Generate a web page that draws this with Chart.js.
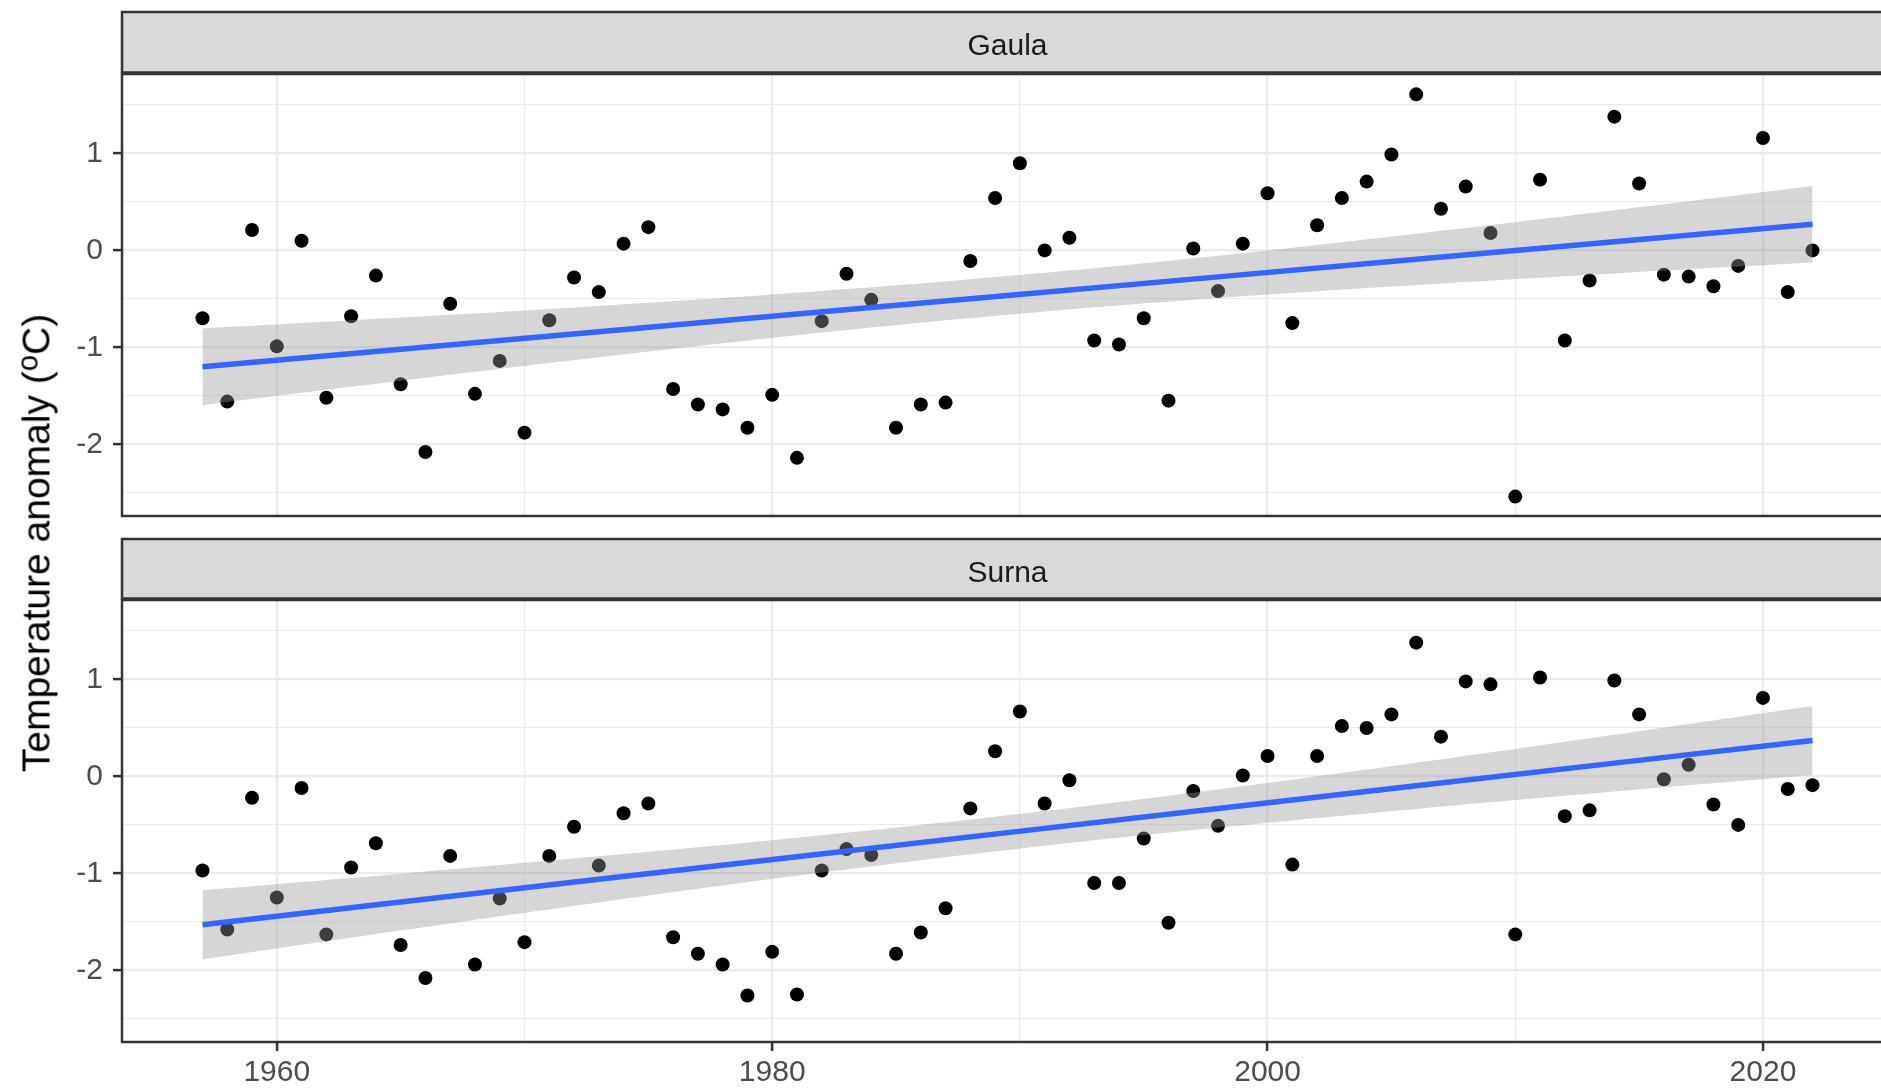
<!DOCTYPE html>
<html>
<head>
<meta charset="utf-8">
<script src="https://cdn.jsdelivr.net/npm/chart.js@4.4.1/dist/chart.umd.min.js"></script>
<style>
  html, body { margin: 0; padding: 0; background: #ffffff; overflow: hidden; width: 1881px; height: 1090px; }
  #wrap { position: relative; width: 1900px; height: 1090px; }
  #wrap canvas { position: absolute; left: 0; }
  #ytitle {
    position: absolute; left: 36px; top: 543px;
    transform: translate(-50%, -50%) rotate(-90deg);
    white-space: nowrap; line-height: 1;
    font-family: "Liberation Sans", Arial, Helvetica, sans-serif;
    font-size: 39px; color: #000000;
  }
  #ytitle sup { font-size: 0.75em; vertical-align: 0.42em; line-height: 0; }
</style>
</head>
<body>
<div id="wrap">
  <canvas id="gaula" width="1900" height="530" style="top:0px"></canvas>
  <canvas id="surna" width="1900" height="560" style="top:530px"></canvas>
  <div id="ytitle">Temperature anomaly (<sup>o</sup>C)</div>
</div>
<script>
// Years of observation
const years = [
  1957, 1958, 1959, 1960, 1961, 1962, 1963, 1964, 1965, 1966,
  1967, 1968, 1969, 1970, 1971, 1972, 1973, 1974, 1975, 1976,
  1977, 1978, 1979, 1980, 1981, 1982, 1983, 1984, 1985, 1986,
  1987, 1988, 1989, 1990, 1991, 1992, 1993, 1994, 1995, 1996,
  1997, 1998, 1999, 2000, 2001, 2002, 2003, 2004, 2005, 2006,
  2007, 2008, 2009, 2010, 2011, 2012, 2013, 2014, 2015, 2016,
  2017, 2018, 2019, 2020, 2021, 2022
];

// Annual temperature anomaly (°C), river Gaula
const gaulaAnomaly = [
  -0.70, -1.56,  0.21, -0.99,  0.10, -1.52, -0.68, -0.26, -1.38, -2.08,
  -0.55, -1.48, -1.14, -1.88, -0.72, -0.28, -0.43,  0.07,  0.24, -1.43,
  -1.59, -1.64, -1.83, -1.49, -2.14, -0.73, -0.24, -0.51, -1.83, -1.59,
  -1.57, -0.11,  0.54,  0.90,  0.00,  0.13, -0.93, -0.97, -0.70, -1.55,
   0.02, -0.42,  0.07,  0.59, -0.75,  0.26,  0.54,  0.71,  0.99,  1.61,
   0.43,  0.66,  0.18, -2.54,  0.73, -0.93, -0.31,  1.38,  0.69, -0.25,
  -0.27, -0.37, -0.16,  1.16, -0.43,  0.00
];

// Annual temperature anomaly (°C), river Surna
const surnaAnomaly = [
  -0.97, -1.58, -0.22, -1.25, -0.12, -1.63, -0.94, -0.69, -1.74, -2.08,
  -0.82, -1.94, -1.26, -1.71, -0.82, -0.52, -0.92, -0.38, -0.28, -1.66,
  -1.83, -1.94, -2.26, -1.81, -2.25, -0.97, -0.75, -0.81, -1.83, -1.61,
  -1.36, -0.33,  0.26,  0.67, -0.28, -0.04, -1.10, -1.10, -0.64, -1.51,
  -0.15, -0.51,  0.01,  0.21, -0.91,  0.21,  0.52,  0.50,  0.64,  1.38,
   0.41,  0.98,  0.95, -1.63,  1.02, -0.41, -0.35,  0.99,  0.64, -0.03,
   0.12, -0.29, -0.50,  0.81, -0.13, -0.09
];

// Linear trend with its 95% confidence band, sampled along the years
const bandYears  = [1957, 1965, 1973, 1981, 1989.5, 1998, 2006, 2014, 2022];
const gaulaFit   = [-1.200, -1.019, -0.838, -0.657, -0.465, -0.273, -0.092, 0.089, 0.270];
const gaulaLower = [-1.595, -1.345, -1.103, -0.876, -0.665, -0.492, -0.357, -0.237, -0.125];
const gaulaUpper = [-0.805, -0.693, -0.573, -0.438, -0.265, -0.054, 0.173, 0.415, 0.665];
const surnaFit   = [-1.530, -1.296, -1.062, -0.829, -0.580, -0.331, -0.097, 0.137, 0.370];
const surnaLower = [-1.886, -1.589, -1.300, -1.026, -0.760, -0.528, -0.335, -0.156, 0.014];
const surnaUpper = [-1.174, -1.003, -0.824, -0.632, -0.400, -0.134, 0.141, 0.430, 0.726];

// Axis ticks
const xMajorTicks = [1960, 1980, 2000, 2020];
const xMinorTicks = [1970, 1990, 2010];
const yMajorTicks = [-2, -1, 0, 1];
const yMinorTicks = [-2.5, -1.5, -0.5, 0.5, 1.5];

const facetNames = ['Gaula', 'Surna'];

const FONT = '"Liberation Sans", Arial, Helvetica, sans-serif';
Chart.defaults.font.family = FONT;

// Strip label above each panel and the dark panel frame
const facetFrame = {
  id: 'facetFrame',
  afterDraw(chart, args, opts) {
    const { ctx, chartArea: a } = chart;
    ctx.save();
    ctx.fillStyle = '#d9d9d9';
    ctx.fillRect(a.left, opts.stripTop, a.right - a.left, opts.stripBottom - opts.stripTop);
    ctx.strokeStyle = '#333333';
    ctx.lineWidth = 2.5;
    ctx.strokeRect(a.left, opts.stripTop, a.right - a.left, opts.stripBottom - opts.stripTop);
    ctx.fillStyle = '#1a1a1a';
    ctx.font = '30px ' + FONT;
    ctx.textAlign = 'center';
    ctx.textBaseline = 'alphabetic';
    ctx.fillText(opts.label, (a.left + a.right) / 2, opts.stripTop + 43);
    ctx.strokeRect(a.left, a.top, a.right - a.left, a.bottom - a.top);
    ctx.restore();
  }
};

const pts = (xs, ys) => xs.map((x, i) => ({ x: x, y: ys[i] }));
const isMajor = (list, ctx) => !!(ctx && ctx.tick && list.includes(ctx.tick.value));

function makeFacet(canvasId, label, anomaly, fit, lower, upper, showX, padTop, padBottom, stripTop, stripBottom) {
  return new Chart(document.getElementById(canvasId), {
    type: 'scatter',
    data: {
      datasets: [
        {
          label: label,
          data: pts(years, anomaly),
          showLine: false,
          pointRadius: 7,
          pointHoverRadius: 7,
          pointBackgroundColor: '#000000',
          pointBorderWidth: 0,
          order: 3
        },
        {
          type: 'line',
          data: pts(bandYears, lower),
          borderWidth: 0,
          pointRadius: 0,
          fill: false,
          tension: 0.4,
          order: 2
        },
        {
          type: 'line',
          data: pts(bandYears, upper),
          borderWidth: 0,
          pointRadius: 0,
          fill: '-1',
          backgroundColor: 'rgba(153,153,153,0.4)',
          tension: 0.4,
          order: 2
        },
        {
          type: 'line',
          data: pts(bandYears, fit),
          borderColor: '#3366ff',
          borderWidth: 5.5,
          pointRadius: 0,
          fill: false,
          order: 1
        }
      ]
    },
    options: {
      responsive: false,
      animation: false,
      devicePixelRatio: 1,
      layout: { padding: { top: padTop, bottom: padBottom, left: 0, right: 0 } },
      plugins: {
        legend: { display: false },
        tooltip: { enabled: false },
        facetFrame: { label: label, stripTop: stripTop, stripBottom: stripBottom }
      },
      scales: {
        x: {
          type: 'linear',
          min: 1953.75,
          max: 2025.25,
          afterBuildTicks: s => {
            s.ticks = xMajorTicks.concat(xMinorTicks).sort((a, b) => a - b).map(v => ({ value: v }));
          },
          afterFit: s => {
            s.height = showX ? 48 : 0;
            s.paddingLeft = 0; s.paddingRight = 0;
          },
          ticks: {
            display: showX,
            autoSkip: false,
            maxRotation: 0,
            padding: 4,
            color: '#4d4d4d',
            font: { size: 30 },
            callback: v => xMajorTicks.includes(v) ? String(v) : ''
          },
          grid: {
            color: '#ebebeb',
            lineWidth: ctx => isMajor(xMajorTicks, ctx) ? 2.2 : 1.1,
            drawTicks: showX,
            tickLength: 9,
            tickWidth: 2.5,
            tickColor: ctx => isMajor(xMajorTicks, ctx) ? '#333333' : 'rgba(0,0,0,0)'
          },
          border: { display: false }
        },
        y: {
          type: 'linear',
          min: -2.74,
          max: 1.82,
          afterBuildTicks: s => {
            s.ticks = yMajorTicks.concat(yMinorTicks).sort((a, b) => a - b).map(v => ({ value: v }));
          },
          afterFit: s => {
            s.width = 122;
            s.paddingTop = 0; s.paddingBottom = 0;
          },
          ticks: {
            padding: 10,
            color: '#4d4d4d',
            font: { size: 30 },
            callback: v => yMajorTicks.includes(v) ? String(v) : ''
          },
          grid: {
            color: '#ebebeb',
            lineWidth: ctx => isMajor(yMajorTicks, ctx) ? 2.2 : 1.1,
            drawTicks: true,
            tickLength: 9,
            tickWidth: 2.5,
            tickColor: ctx => isMajor(yMajorTicks, ctx) ? '#333333' : 'rgba(0,0,0,0)'
          },
          border: { display: false }
        }
      }
    },
    plugins: [facetFrame]
  });
}

makeFacet('gaula', facetNames[0], gaulaAnomaly, gaulaFit, gaulaLower, gaulaUpper, false, 74, 14, 12, 72.5);
makeFacet('surna', facetNames[1], surnaAnomaly, surnaFit, surnaLower, surnaUpper, true, 70, 0, 9, 68.5);
</script>
</body>
</html>
